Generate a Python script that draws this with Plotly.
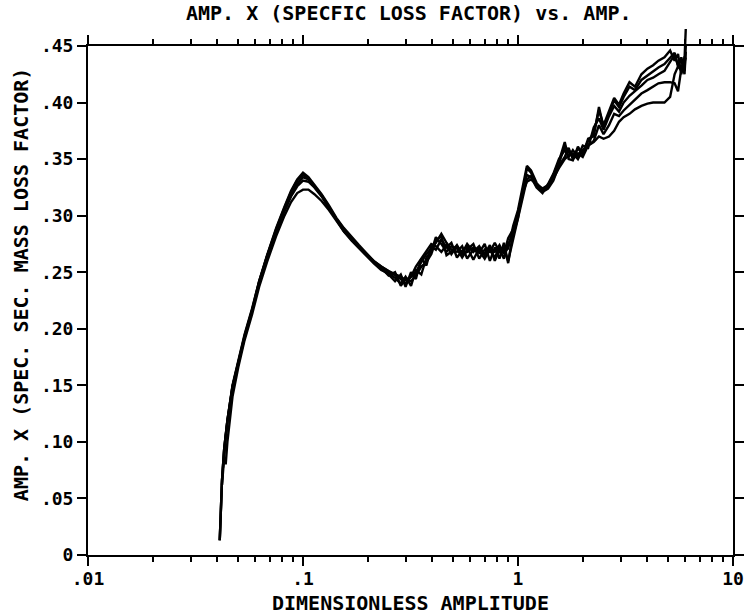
import plotly.graph_objects as go

# shared x grid (dimensionless amplitude)
X = [0.0410, 0.0415, 0.0420, 0.0430, 0.0437, 0.0445, 0.0470, 0.0500,
     0.0535, 0.0580, 0.0625, 0.0680, 0.0750, 0.0820, 0.0880, 0.0940,
     0.1000, 0.1060, 0.1130, 0.1220, 0.1320, 0.1430, 0.1550, 0.1680,
     0.1820, 0.1970, 0.2130, 0.2310, 0.2500, 0.2680, 0.2850, 0.3000,
     0.3180, 0.3350, 0.3550, 0.3750, 0.3950, 0.4150, 0.4400, 0.4650,
     0.4900, 0.5200, 0.5500, 0.5800, 0.6200, 0.6600, 0.7000, 0.7400,
     0.7800, 0.8200, 0.8600, 0.9000, 0.9500, 1.0000, 1.0500, 1.1000,
     1.1500, 1.2200, 1.3000, 1.3800, 1.4600, 1.5500, 1.6500, 1.7200,
     1.8000, 1.9000, 2.0000, 2.1200, 2.2500, 2.3800, 2.5000, 2.6500,
     2.8000, 2.9500, 3.1000, 3.3000, 3.5000, 3.7500, 4.0000, 4.2500,
     4.5000, 4.8000, 5.1000, 5.3500, 5.5500, 5.7500, 5.9500, 6.0300]

CURVE_A = [0.013, 0.045, 0.066, 0.094, 0.106, 0.119, 0.149, 0.171,
           0.194, 0.217, 0.242, 0.265, 0.289, 0.308, 0.322, 0.332,
           0.338, 0.334, 0.327, 0.319, 0.309, 0.298, 0.289, 0.281,
           0.274, 0.267, 0.260, 0.255, 0.251, 0.247, 0.244, 0.240,
           0.246, 0.250, 0.259, 0.266, 0.271, 0.276, 0.284, 0.276,
           0.270, 0.268, 0.273, 0.262, 0.270, 0.267, 0.275, 0.260,
           0.272, 0.262, 0.276, 0.258, 0.286, 0.301, 0.318, 0.342,
           0.338, 0.327, 0.323, 0.326, 0.334, 0.346, 0.362, 0.356,
           0.352, 0.359, 0.356, 0.366, 0.373, 0.393, 0.380, 0.393,
           0.404, 0.398, 0.408, 0.418, 0.414, 0.425, 0.430, 0.433,
           0.437, 0.440, 0.446, 0.437, 0.443, 0.425, 0.438, 0.465]

CURVE_B = [None, None, 0.062, 0.090, 0.104, 0.117, 0.147, 0.169,
           0.192, 0.216, 0.241, 0.264, 0.288, 0.307, 0.321, 0.331,
           0.336, 0.333, 0.326, 0.318, 0.308, 0.297, 0.288, 0.280,
           0.273, 0.266, 0.259, 0.253, 0.248, 0.242, 0.248, 0.237,
           0.250, 0.244, 0.262, 0.256, 0.273, 0.270, 0.279, 0.272,
           0.276, 0.263, 0.269, 0.272, 0.261, 0.271, 0.266, 0.274,
           0.260, 0.270, 0.262, 0.275, 0.283, 0.298, 0.322, 0.336,
           0.334, 0.325, 0.320, 0.328, 0.337, 0.350, 0.358, 0.352,
           0.358, 0.352, 0.362, 0.360, 0.378, 0.386, 0.376, 0.388,
           0.397, 0.392, 0.400, 0.406, 0.410, 0.415, 0.420, 0.422,
           0.425, 0.428, 0.436, 0.442, 0.433, 0.438, 0.425, 0.445]

CURVE_C = [0.013, 0.045, 0.066, 0.094, 0.106, 0.119, 0.150, 0.172,
           0.195, 0.218, 0.242, 0.264, 0.287, 0.305, 0.318, 0.328,
           0.334, 0.332, 0.326, 0.318, 0.307, 0.296, 0.286, 0.278,
           0.271, 0.264, 0.258, 0.252, 0.249, 0.245, 0.240, 0.246,
           0.238, 0.252, 0.248, 0.263, 0.268, 0.281, 0.275, 0.268,
           0.273, 0.271, 0.263, 0.270, 0.275, 0.262, 0.270, 0.268,
           0.276, 0.268, 0.271, 0.260, 0.280, 0.296, 0.315, 0.332,
           0.335, 0.326, 0.321, 0.324, 0.331, 0.344, 0.352, 0.360,
           0.350, 0.355, 0.352, 0.362, 0.366, 0.380, 0.372, 0.380,
           0.390, 0.388, 0.393, 0.398, 0.403, 0.408, 0.411, 0.414,
           0.417, 0.418, 0.418, 0.417, 0.410, 0.430, 0.440, 0.440]

CURVE_D = [None, None, None, None, 0.080, 0.100, 0.140, 0.166,
           0.190, 0.213, 0.237, 0.259, 0.282, 0.300, 0.312, 0.320,
           0.323, 0.323, 0.319, 0.313, 0.305, 0.295, 0.286, 0.279,
           0.272, 0.266, 0.260, 0.255, 0.251, 0.248, 0.246, 0.243,
           0.246, 0.255, 0.262, 0.268, 0.275, 0.273, 0.268, 0.274,
           0.266, 0.273, 0.267, 0.275, 0.268, 0.273, 0.265, 0.271,
           0.268, 0.274, 0.266, 0.280, 0.288, 0.303, 0.320, 0.330,
           0.332, 0.328, 0.324, 0.327, 0.333, 0.342, 0.350, 0.353,
           0.355, 0.350, 0.358, 0.362, 0.365, 0.370, 0.368, 0.370,
           0.375, 0.383, 0.387, 0.390, 0.394, 0.397, 0.399, 0.400,
           0.400, 0.400, 0.405, 0.425, 0.432, 0.428, 0.436, 0.440]

CURVE_E = [0.013, 0.045, 0.066, 0.094, 0.106, 0.119, 0.149, 0.171,
           0.193, 0.216, 0.240, 0.262, 0.286, 0.304, 0.317, 0.326,
           0.331, 0.330, 0.325, 0.317, 0.307, 0.297, 0.288, 0.280,
           0.273, 0.266, 0.259, 0.254, 0.247, 0.250, 0.238, 0.244,
           0.242, 0.247, 0.255, 0.259, 0.266, 0.278, 0.282, 0.265,
           0.268, 0.274, 0.266, 0.268, 0.272, 0.269, 0.262, 0.270,
           0.263, 0.272, 0.268, 0.271, 0.291, 0.305, 0.325, 0.344,
           0.340, 0.329, 0.322, 0.325, 0.336, 0.348, 0.365, 0.350,
           0.349, 0.361, 0.354, 0.368, 0.370, 0.396, 0.378, 0.390,
           0.402, 0.396, 0.405, 0.414, 0.411, 0.420, 0.424, 0.428,
           0.431, 0.434, 0.440, 0.444, 0.432, 0.440, 0.428, 0.450]

X_TICKS = [0.01, 0.1, 1, 10]
X_TICKTEXT = [".01", ".1", "1", "10"]
X_DECADES = [0.01, 0.1, 1]
X_MINOR_MULT = [2, 3, 4, 5, 6, 7, 8, 9]
Y_TICKS = [0, 0.05, 0.10, 0.15, 0.20, 0.25, 0.30, 0.35, 0.40, 0.45]
Y_TICKTEXT = ["0", ".05", ".10", ".15", ".20", ".25", ".30", ".35", ".40", ".45"]

TITLE = "AMP. X (SPECFIC LOSS FACTOR) vs. AMP."
X_TITLE = "DIMENSIONLESS AMPLITUDE"
Y_TITLE = "AMP. X (SPEC. SEC. MASS LOSS FACTOR)"

FONT = "DejaVu Sans Mono"
W, H = 756, 616
ML, MR, MT, MB = 88, 12, 25, 61
PLOT_W = W - ML - MR
PLOT_H = H - MT - MB          # 530
AX_H = 509                    # main axis height in px
DOM_TOP = AX_H / PLOT_H
Y_MAX = 0.45

minor_vals = [d * m for d in X_DECADES for m in X_MINOR_MULT]

line = dict(color="black", width=2.4)
fig = go.Figure()
# curve with the overshoot spike drawn on an overlay subplot that extends above the frame
fig.add_trace(go.Scatter(x=X, y=CURVE_A, mode="lines", line=line,
                         xaxis="x2", yaxis="y2", hoverinfo="skip"))
for ys in (CURVE_B, CURVE_C, CURVE_D, CURVE_E):
    fig.add_trace(go.Scatter(x=X, y=ys, mode="lines", line=line,
                             connectgaps=False, hoverinfo="skip"))

axis_common = dict(showline=True, linecolor="black", linewidth=2,
                   mirror="ticks", ticks="outside", tickcolor="black",
                   tickwidth=2, showgrid=False, zeroline=False,
                   tickfont=dict(family=FONT, size=18, color="black",
                                 weight="bold"))

title_font = dict(family=FONT, size=20, color="black", weight="bold")

fig.update_layout(
    width=W, height=H,
    margin=dict(l=ML, r=MR, t=MT, b=MB),
    paper_bgcolor="white", plot_bgcolor="rgba(0,0,0,0)",
    showlegend=False,
    xaxis=dict(type="log", range=[-2, 1], domain=[0, 1], anchor="y",
               tickvals=X_TICKS, ticktext=X_TICKTEXT, ticklen=9,
               ticklabelstandoff=-3,
               minor=dict(tickvals=minor_vals, ticks="outside", ticklen=5,
                          tickwidth=2, tickcolor="black", showgrid=False),
               **axis_common),
    yaxis=dict(range=[0, Y_MAX], domain=[0, DOM_TOP], anchor="x",
               tickvals=Y_TICKS, ticktext=Y_TICKTEXT, ticklen=9,
               **axis_common),
    xaxis2=dict(type="log", range=[-2, 1], domain=[0, 1], anchor="y2",
                visible=False),
    yaxis2=dict(range=[0, Y_MAX / DOM_TOP], domain=[0, 1], anchor="x2",
                visible=False),
    annotations=[
        dict(text=TITLE, xref="paper", yref="paper",
             x=(414 - ML) / PLOT_W, y=((H - MB) - 13) / PLOT_H,
             showarrow=False, xanchor="center", yanchor="middle",
             font=title_font),
        dict(text=X_TITLE, xref="paper", yref="paper",
             x=(416 - ML) / PLOT_W, y=-(603 - (H - MB)) / PLOT_H,
             showarrow=False, xanchor="center", yanchor="middle",
             font=title_font),
        dict(text=Y_TITLE, xref="paper", yref="paper",
             x=-(ML - 20) / PLOT_W, y=((H - MB) - 285) / PLOT_H,
             textangle=-90, showarrow=False, xanchor="center",
             yanchor="middle", font=title_font),
    ],
)

fig.write_html("out.html")
